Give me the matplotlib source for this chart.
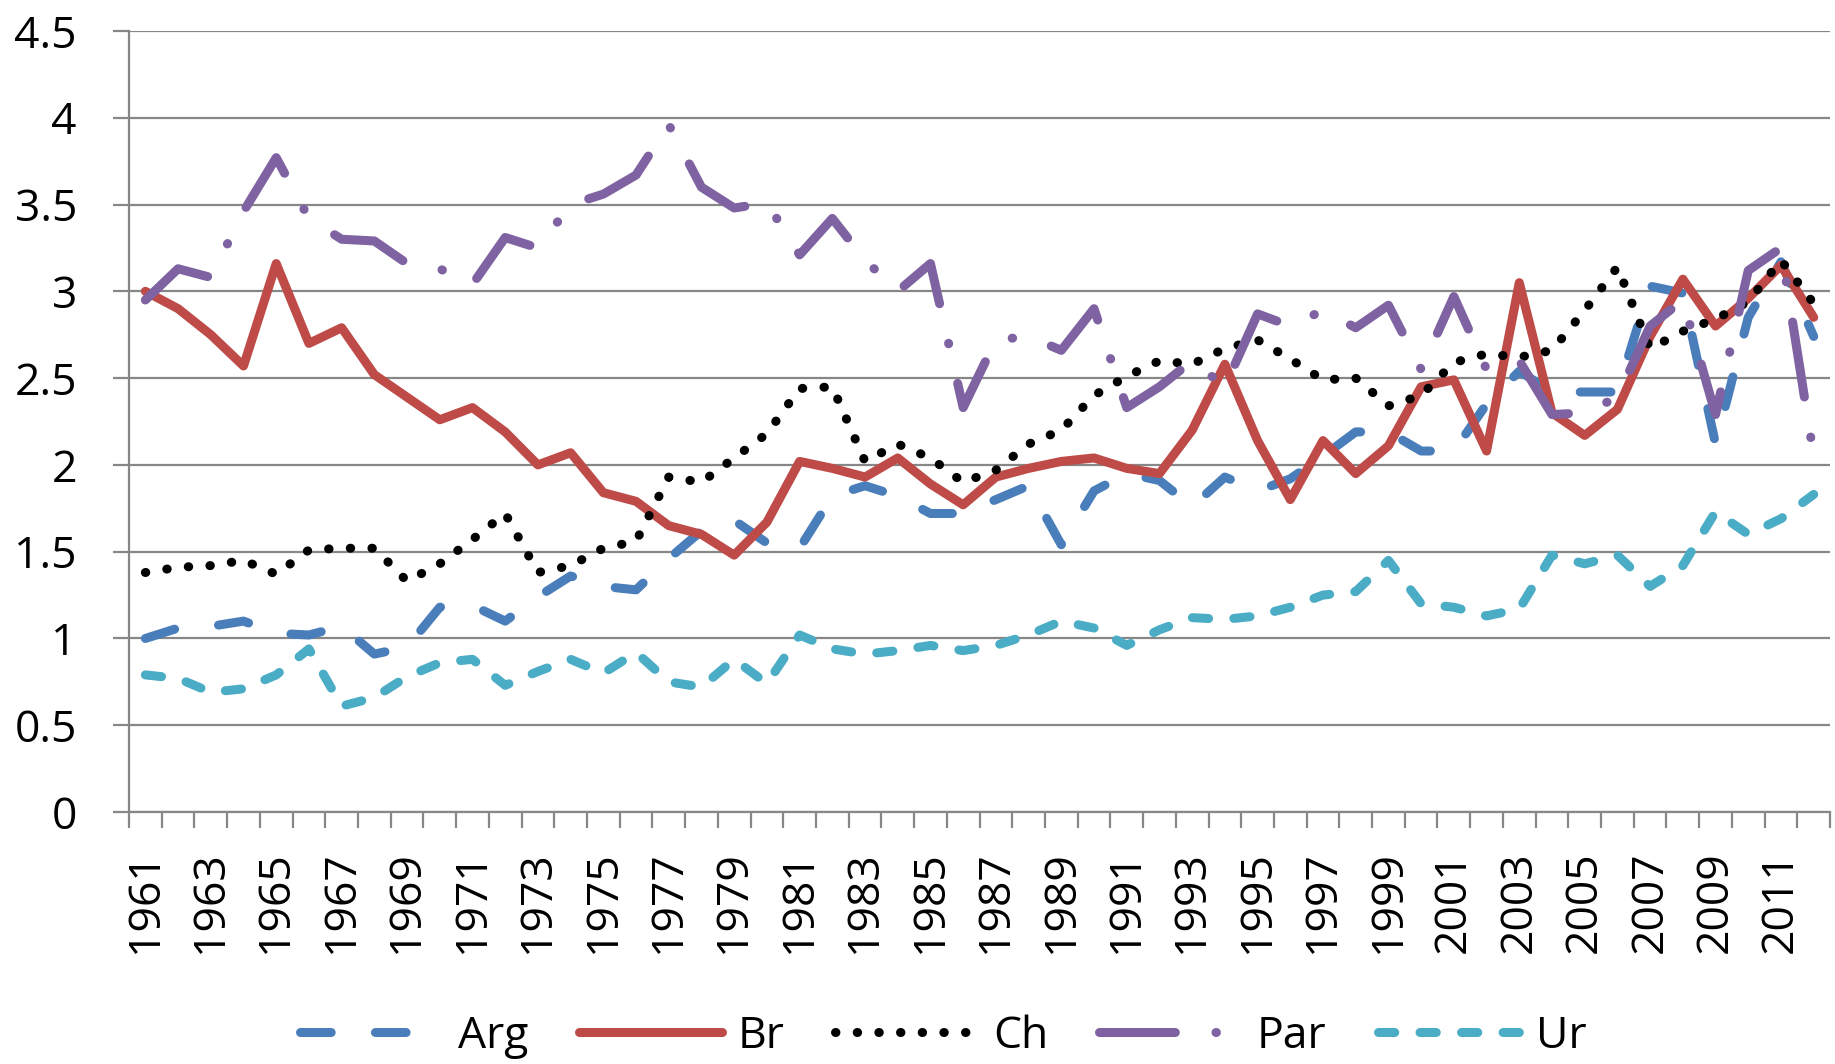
import numpy as np
import matplotlib
matplotlib.use("Agg")
import matplotlib.pyplot as plt

plt.rcParams['font.family'] = ['Open Sans', 'DejaVu Sans']

# Données
annees = list(range(1961, 2013))
arg = [1.00, 1.06, 1.07, 1.10, 1.03, 1.02, 1.07, 0.91, 0.95, 1.18, 1.19, 1.10, 1.24, 1.36,
       1.30, 1.28, 1.46, 1.62, 1.68, 1.55, 1.52, 1.82, 1.88, 1.82, 1.72, 1.72, 1.80,
       1.88, 1.54, 1.85, 1.95, 1.91, 1.76, 1.93, 1.85, 1.92, 2.05, 2.19, 2.19, 2.08, 2.08,
       2.35, 2.54, 2.42, 2.42, 2.42, 3.03, 2.99, 2.12, 2.85, 3.17, 2.74]
br = [3.00, 2.90, 2.75, 2.57, 3.16, 2.70, 2.79, 2.52, 2.39, 2.26, 2.33, 2.19, 2.00, 2.07,
      1.84, 1.79, 1.65, 1.60, 1.48, 1.67, 2.02, 1.98, 1.93, 2.04, 1.89, 1.77, 1.93,
      1.98, 2.02, 2.04, 1.98, 1.95, 2.20, 2.58, 2.14, 1.80, 2.14, 1.95, 2.11, 2.45, 2.49,
      2.08, 3.05, 2.30, 2.17, 2.32, 2.74, 3.07, 2.80, 2.96, 3.15, 2.85]
ch = [1.38, 1.41, 1.42, 1.45, 1.37, 1.51, 1.52, 1.52, 1.33, 1.43, 1.57, 1.72, 1.38, 1.42,
      1.52, 1.56, 1.93, 1.90, 2.04, 2.18, 2.44, 2.45, 2.02, 2.12, 2.04, 1.90, 1.97,
      2.12, 2.20, 2.40, 2.51, 2.60, 2.58, 2.67, 2.72, 2.61, 2.49, 2.50, 2.34, 2.40, 2.59,
      2.64, 2.62, 2.66, 2.89, 3.14, 2.67, 2.77, 2.84, 2.94, 3.18, 2.93]
par = [2.95, 3.13, 3.08, 3.46, 3.77, 3.42, 3.30, 3.29, 3.16, 3.13, 3.04, 3.31, 3.25, 3.50,
       3.56, 3.67, 3.96, 3.60, 3.48, 3.51, 3.21, 3.42, 3.18, 3.00, 3.16, 2.33, 2.72,
       2.74, 2.66, 2.90, 2.33, 2.45, 2.60, 2.45, 2.87, 2.80, 2.89, 2.79, 2.92, 2.55, 2.97,
       2.55, 2.60, 2.29, 2.30, 2.39, 2.80, 2.95, 2.29, 3.12, 3.25, 2.05]
ur = [0.79, 0.77, 0.69, 0.71, 0.79, 0.94, 0.61, 0.66, 0.78, 0.86, 0.88, 0.73, 0.81, 0.88,
      0.80, 0.92, 0.75, 0.72, 0.88, 0.74, 1.02, 0.94, 0.91, 0.93, 0.96, 0.93, 0.96,
      1.02, 1.10, 1.06, 0.96, 1.05, 1.12, 1.11, 1.13, 1.18, 1.25, 1.27, 1.45, 1.20, 1.18,
      1.13, 1.17, 1.48, 1.43, 1.48, 1.30, 1.42, 1.73, 1.60, 1.69, 1.83]

GRIS = "#878787"
LW = 6.5

fig = plt.figure(figsize=(18.35, 10.64), dpi=100)
ax = fig.add_axes([0.0703, 0.2368, 0.9270, 0.7341])

x = np.arange(len(annees))
series = [
    ("Arg", arg, "#4A7EBB", (0, (3.4, 4.9))),
    ("Br", br, "#BE4B48", "-"),
    ("Ch", ch, "#000000", (0, (0.05, 2.35))),
    ("Par", par, "#7E62A1", (0, (8.4, 4.5, 0.05, 4.5))),
    ("Ur", ur, "#4BACC6", (0, (1.8, 2.8))),
]
for nom, vals, coul, style in series:
    ax.plot(x, vals, color=coul, lw=LW, linestyle=style, label=nom,
            dash_capstyle="round", solid_capstyle="round",
            dash_joinstyle="round", solid_joinstyle="round")

ax.set_xlim(-0.5, len(annees) - 0.5)
ax.set_ylim(0, 4.5)

yt = np.arange(0, 4.51, 0.5)
ax.set_yticks(yt)
ax.set_yticklabels([f"{v:g}" for v in yt])
ax.yaxis.grid(True, color=GRIS, lw=1.6)
ax.set_axisbelow(True)

# graduations aux limites des catégories, étiquettes une année sur deux
ax.set_xticks(np.arange(-0.5, len(annees), 1))
ax.set_xticklabels([])
ax.set_xticks(x[::2], minor=True)
ax.set_xticklabels([str(a) for a in annees[::2]], minor=True, rotation=90, va="top")
ax.tick_params(axis="x", which="major", length=11.5, width=1.6, color=GRIS, direction="out")
ax.tick_params(axis="x", which="minor", length=0, pad=28, labelsize=32)
ax.tick_params(axis="y", length=11.5, width=1.6, color=GRIS, pad=26, labelsize=32)

for s in ["top", "right"]:
    ax.spines[s].set_visible(False)
for s in ["left", "bottom"]:
    ax.spines[s].set_color(GRIS)
    ax.spines[s].set_linewidth(1.6)

fig.legend(loc="center", bbox_to_anchor=(0.514, 0.026), ncol=5, frameon=False,
           fontsize=32, handlelength=3.2, handletextpad=0.35, columnspacing=1.15)

fig.savefig("out.png", dpi=100)
